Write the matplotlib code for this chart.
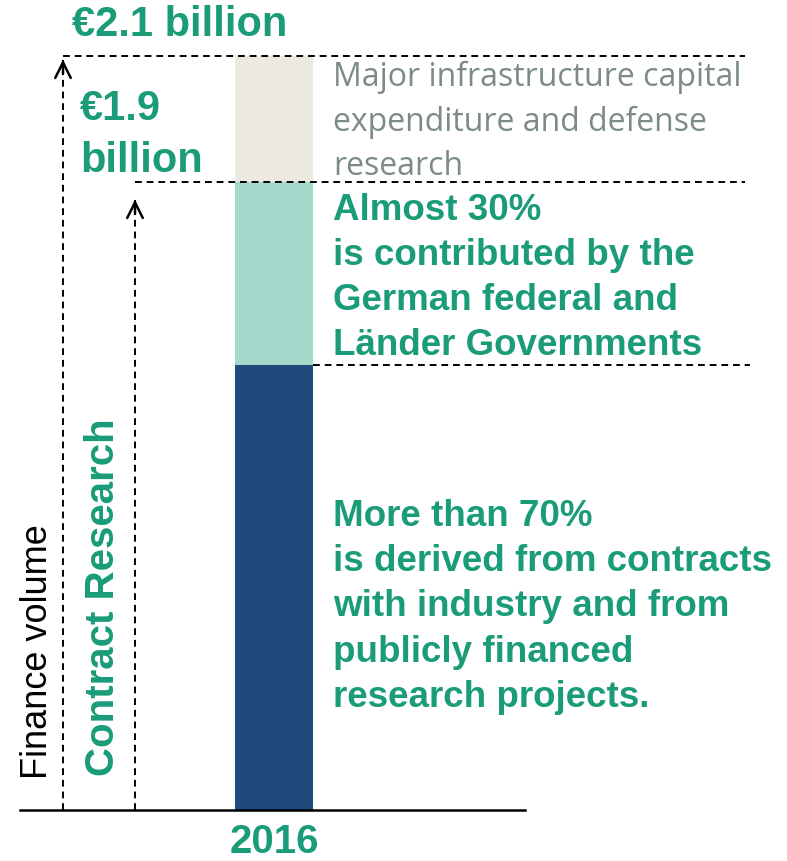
import matplotlib
matplotlib.use("Agg")
import matplotlib.pyplot as plt

# ----------------------------
# data (billion EUR)
# ----------------------------
year = "2016"
segment_names = ["Contract research (industry / projects)", "Federal and Länder base funding", "Infrastructure and defense"]
segment_values = [1.24, 0.51, 0.35]
segment_colors = ["#1f4a7c", "#a3d8ca", "#eceae0"]
total_label = "€2.1 billion"
contract_label = "€1.9\nbillion"

segment_texts = [
    "More than 70%\nis derived from contracts\nwith industry and from\npublicly financed\nresearch projects.",
    "Almost 30%\nis contributed by the\nGerman federal and\nLänder Governments",
    "Major infrastructure capital\nexpenditure and defense\nresearch",
]

GREEN = "#1a9c78"
GRAY = "#7c8a8a"
W, H = 787, 862

plt.rcParams["font.family"] = ["Liberation Sans", "DejaVu Sans"]

fig = plt.figure(figsize=(W / 100, H / 100), dpi=100)


def fx(px):
    return px / W


def fy(py):
    return 1 - py / H


# axes: baseline from x=20 to 525 px, y=811 px; top of bar at y=57 px
ax = fig.add_axes([fx(20), fy(811), (525 - 20) / W, (811 - 57) / H])
total = sum(segment_values)
unit = 156.0  # px per x unit
x0 = -(274 - 20) / unit
ax.set_xlim(x0, x0 + 505 / unit)
ax.set_ylim(0, total)


def xpx(px):
    return x0 + (px - 20) / unit


bar_w = 78 / unit
bottom = 0
tops = []
for v, c in zip(segment_values, segment_colors):
    ax.bar([0], [v], bottom=bottom, width=bar_w, color=c, zorder=2)
    bottom += v
    tops.append(bottom)

for s in ["top", "right", "left"]:
    ax.spines[s].set_visible(False)
ax.spines["bottom"].set_linewidth(1.8)
ax.set_yticks([])
ax.set_xticks([0])
ax.set_xticklabels([year], fontsize=29, fontweight="bold", color=GREEN)
ax.tick_params(axis="x", length=0, pad=9)

dash = dict(color="black", lw=1.4, dashes=(3.5, 2.5), clip_on=False)
# horizontal guide lines
ax.plot([xpx(63), xpx(745)], [tops[2], tops[2]], **dash)
ax.plot([xpx(135), xpx(745)], [tops[1], tops[1]], **dash)
ax.plot([bar_w / 2, xpx(750)], [tops[0], tops[0]], **dash)

# vertical arrows
arrow_tops = [tops[2] - 0.01, tops[1] - 0.05]
for xp, yt in zip([63, 135], arrow_tops):
    ax.plot([xpx(xp), xpx(xp)], [0, yt], **dash)
    ax.annotate("", xy=(xpx(xp), yt), xytext=(xpx(xp), yt - 0.04),
                arrowprops=dict(arrowstyle="->", lw=1.8, color="black",
                                mutation_scale=28, shrinkA=0, shrinkB=0),
                annotation_clip=False)

# labels
fig.text(fx(72), fy(25), total_label, fontsize=30, fontweight="bold",
         color=GREEN, ha="left", va="center")
fig.text(fx(80), fy(135), contract_label, fontsize=30, fontweight="bold",
         color=GREEN, ha="left", va="center", linespacing=1.4)
fig.text(fx(38), fy(652), "Finance volume", fontsize=26, color="black",
         rotation=90, ha="center", va="center")
fig.text(fx(103), fy(597), "Contract Research", fontsize=29, fontweight="bold",
         color=GREEN, rotation=90, ha="center", va="center")

fig.text(fx(333), fy(122), segment_texts[2], fontsize=23, color=GRAY,
         family="Open Sans", ha="left", va="center", linespacing=1.45)
fig.text(fx(333), fy(278), segment_texts[1], fontsize=26.5, fontweight="bold",
         color=GREEN, ha="left", va="center", linespacing=1.38)
fig.text(fx(333), fy(607), segment_texts[0], fontsize=26.5, fontweight="bold",
         color=GREEN, ha="left", va="center", linespacing=1.38)

fig.savefig("out.png", dpi=100)
